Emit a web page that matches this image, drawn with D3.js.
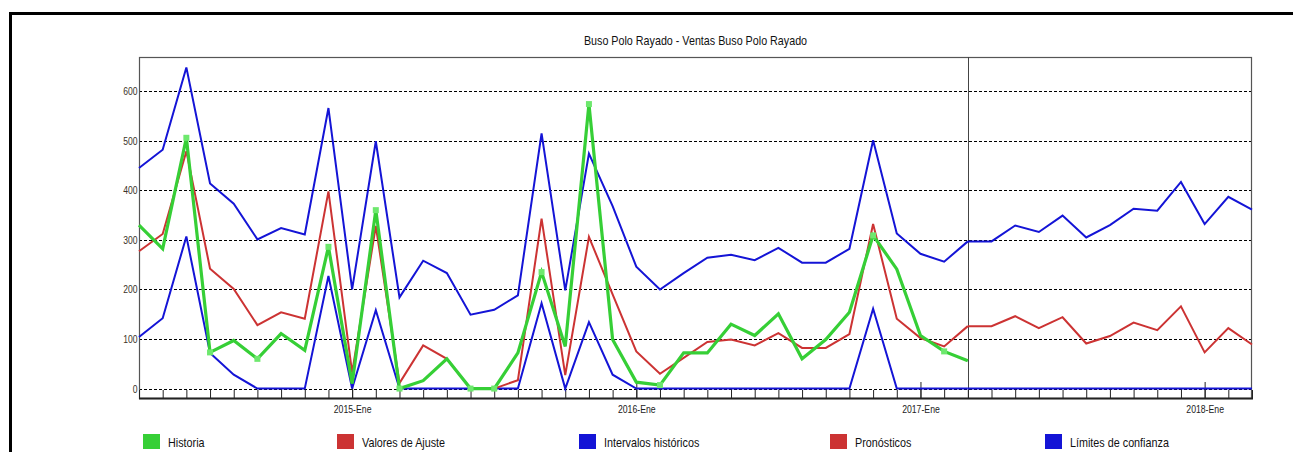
<!DOCTYPE html>
<html>
<head>
<meta charset="utf-8">
<script src="https://cdn.jsdelivr.net/npm/d3@7"></script>
<style>
  body { margin: 0; background: #fff; }
  svg { display: block; }
</style>
</head>
<body>
<svg id="chart" width="1293" height="452"></svg>
<script>
// Monthly periods, April 2014 through March 2018
const months = [
  "2014-Abr","2014-May","2014-Jun","2014-Jul","2014-Ago","2014-Sep","2014-Oct","2014-Nov","2014-Dic",
  "2015-Ene","2015-Feb","2015-Mar","2015-Abr","2015-May","2015-Jun","2015-Jul","2015-Ago","2015-Sep","2015-Oct","2015-Nov","2015-Dic",
  "2016-Ene","2016-Feb","2016-Mar","2016-Abr","2016-May","2016-Jun","2016-Jul","2016-Ago","2016-Sep","2016-Oct","2016-Nov","2016-Dic",
  "2017-Ene","2017-Feb","2017-Mar","2017-Abr","2017-May","2017-Jun","2017-Jul","2017-Ago","2017-Sep","2017-Oct","2017-Nov","2017-Dic",
  "2018-Ene","2018-Feb","2018-Mar"
];

// Historical sales (2014-Abr .. 2017-Mar)
const historia = [330, 282, 506, 73, 97, 60, 111, 77, 286, 10, 360, 0, 16, 60, 0, 0, 72, 235, 85, 574,
                  99, 13, 7, 72, 72, 130, 107, 151, 60, 99, 154, 309, 241, 107, 75, 56];
// Periods of the history flagged with a marker
const historiaMarcas = ["2014-Jun","2014-Jul","2014-Sep","2014-Dic","2015-Feb","2015-Mar","2015-Jun","2015-Jul",
                        "2015-Sep","2015-Nov","2016-Feb","2016-Nov","2017-Feb"];
// Model fitted values over the history
const ajuste = [277, 312, 479, 242, 201, 128, 154, 141, 398, 32, 328, 11, 87, 60, 0, 0, 17, 343, 27, 306,
                190, 75, 30, 62, 94, 99, 87, 112, 82, 82, 110, 332, 141, 102, 85, 126];
// Historical interval bounds
const intervaloSup = [445, 482, 648, 414, 373, 301, 324, 311, 566, 200, 499, 184, 258, 233, 149, 159, 188, 515, 198, 474,
                      368, 246, 200, 233, 264, 270, 259, 284, 254, 254, 282, 501, 313, 272, 256, 297];
const intervaloInf = [104, 142, 307, 72, 28, 0, 0, 0, 227, 0, 158, 0, 0, 0, 0, 0, 0, 172, 0, 134,
                      28, 0, 0, 0, 0, 0, 0, 0, 0, 0, 0, 161, 0, 0, 0, 0];
// Forecast horizon (2017-Mar .. 2018-Mar)
const pronostico = [126, 126, 146, 122, 144, 91, 106, 133, 118, 166, 73, 122, 89];
const limiteSup  = [297, 297, 329, 316, 349, 305, 330, 363, 359, 417, 332, 387, 361];
const limiteInf  = [0, 0, 0, 0, 0, 0, 0, 0, 0, 0, 0, 0, 0];
const inicioPronostico = "2017-Mar";

const yTicks = [0, 100, 200, 300, 400, 500, 600];
const titulo = "Buso Polo Rayado - Ventas Buso Polo Rayado";
const leyenda = [
  { label: "Historia",              color: "#36cf36" },
  { label: "Valores de Ajuste",     color: "#cc3333" },
  { label: "Intervalos históricos", color: "#1414d6" },
  { label: "Pronósticos",           color: "#cc3333" },
  { label: "Límites de confianza",  color: "#1414d6" }
];

const FONT = '"Liberation Sans", Arial, sans-serif';
const NARROW = 0.82; // horizontal squeeze giving a condensed face
const GREEN = "#36cf36", GREEN_MARK = "#6ee86e", RED = "#cc3333", BLUE = "#1414d6";

const svg = d3.select("#chart");
const W = 1293, H = 452;
const plot = { left: 139, right: 1252, top: 57, bottom: 398 };

const idx = new Map(months.map((m, i) => [m, i]));
const x = d3.scaleLinear().domain([0, months.length - 1]).range([plot.left, plot.right]);
const y = d3.scaleLinear().domain([-19, 669]).range([plot.bottom, plot.top]);

// Outer frame
svg.append("rect").attr("x", 10.5).attr("y", 13.5).attr("width", W).attr("height", H)
  .attr("fill", "none").attr("stroke", "#000").attr("stroke-width", 3);

// Title
svg.append("g").attr("transform", `translate(${(plot.left + plot.right) / 2},45) scale(0.86,1)`)
  .append("text").attr("text-anchor", "middle").attr("font-family", FONT).attr("font-size", 12.5)
  .attr("fill", "#111").text(titulo);

// Horizontal dotted grid
const grid = svg.append("g");
grid.selectAll("line").data(yTicks).join("line")
  .attr("x1", plot.left).attr("x2", plot.right)
  .attr("y1", d => Math.round(y(d)) + 0.5).attr("y2", d => Math.round(y(d)) + 0.5)
  .attr("stroke", "#000").attr("stroke-width", 1).attr("stroke-dasharray", "3,2");

// Y axis labels
const yAxis = d3.axisLeft(y).tickValues(yTicks).tickSize(0).tickPadding(2);
svg.append("g").attr("transform", `translate(${plot.left},0)`).call(yAxis)
  .call(g => g.select(".domain").remove())
  .call(g => g.selectAll("text").attr("font-family", FONT).attr("font-size", 11).attr("fill", "#3a3328")
    .attr("transform", `scale(${NARROW - 0.04},1)`));

// Plot frame
svg.append("rect").attr("x", plot.left + 0.5).attr("y", plot.top + 0.5)
  .attr("width", plot.right - plot.left - 1).attr("height", plot.bottom - plot.top)
  .attr("fill", "none").attr("stroke", "#555").attr("stroke-width", 1.2);

// Separator between history and forecast
const xSep = Math.round(x(idx.get(inicioPronostico))) + 0.5;
svg.append("line").attr("x1", xSep).attr("x2", xSep)
  .attr("y1", plot.top).attr("y2", plot.bottom)
  .attr("stroke", "#444").attr("stroke-width", 1);

// X axis: monthly minor ticks, yearly major ticks with labels
const xMinor = d3.axisBottom(x).tickValues(d3.range(months.length)).tickSize(-8).tickFormat("");
svg.append("g").attr("transform", `translate(0,${plot.bottom})`).call(xMinor)
  .call(g => g.select(".domain").remove())
  .call(g => g.selectAll("line").attr("stroke", "#222"));

const eneros = months.map((m, i) => i).filter(i => months[i].endsWith("-Ene"));
const xMajor = d3.axisBottom(x).tickValues(eneros).tickSize(-16).tickPadding(7)
  .tickFormat(i => months[i]);
svg.append("g").attr("transform", `translate(0,${plot.bottom})`).call(xMajor)
  .call(g => g.select(".domain").remove())
  .call(g => g.selectAll("line").attr("stroke", "#222"))
  .call(g => g.selectAll("text").attr("font-family", FONT).attr("font-size", 11).attr("fill", "#222")
    .attr("transform", `scale(${NARROW - 0.03},1)`));

svg.append("line").attr("x1", plot.left).attr("x2", plot.right + 1)
  .attr("y1", plot.bottom + 0.5).attr("y2", plot.bottom + 0.5)
  .attr("stroke", "#222").attr("stroke-width", 2);

// Series
const line = d3.line().x(d => x(d[0])).y(d => y(d[1]));
const toPts = (arr, start) => arr.map((v, i) => [start + i, v]);
const startF = idx.get(inicioPronostico);

const series = [
  { pts: toPts(intervaloSup, 0), color: BLUE, w: 2 },
  { pts: toPts(intervaloInf, 0), color: BLUE, w: 2 },
  { pts: toPts(limiteSup, startF), color: BLUE, w: 2 },
  { pts: toPts(limiteInf, startF), color: BLUE, w: 2 },
  { pts: toPts(ajuste, 0), color: RED, w: 2 },
  { pts: toPts(pronostico, startF), color: RED, w: 2 },
  { pts: toPts(historia, 0), color: GREEN, w: 3.2 }
];
svg.append("g").selectAll("path").data(series).join("path")
  .attr("d", d => line(d.pts))
  .attr("fill", "none").attr("stroke", d => d.color).attr("stroke-width", d => d.w)
  .attr("stroke-linejoin", "miter");

// History markers
svg.append("g").selectAll("rect").data(historiaMarcas.map(m => idx.get(m))).join("rect")
  .attr("x", i => x(i) - 3).attr("y", i => y(historia[i]) - 3)
  .attr("width", 6).attr("height", 6).attr("fill", GREEN_MARK);

// Legend
const legendX = [143, 337, 579, 830, 1045];
const lg = svg.append("g").selectAll("g").data(leyenda).join("g")
  .attr("transform", (d, i) => `translate(${legendX[i]},434)`);
lg.append("rect").attr("width", 17).attr("height", 15).attr("fill", d => d.color);
lg.append("text").attr("transform", `translate(25,13) scale(${NARROW + 0.01},1)`)
  .attr("font-family", FONT).attr("font-size", 13)
  .attr("fill", "#111").text(d => d.label);
</script>
</body>
</html>
